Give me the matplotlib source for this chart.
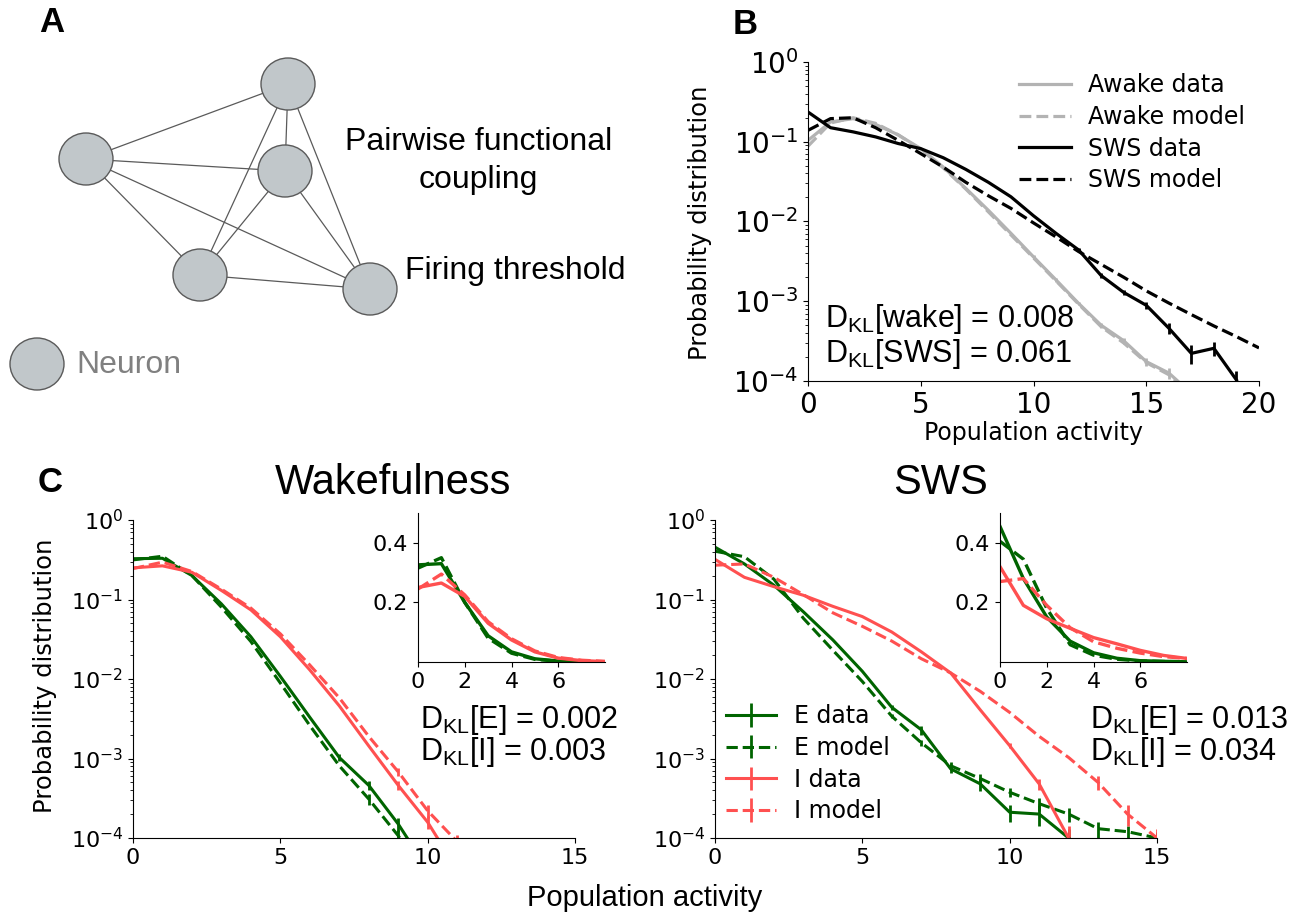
import matplotlib.pyplot as plt
import numpy as np
from matplotlib.patches import Ellipse

plt.rcParams['font.family'] = 'DejaVu Sans'
plt.rcParams['axes.spines.top'] = False
plt.rcParams['axes.spines.right'] = False

# ---- panel B: awake vs SWS, population activity distribution ----
awake_data = [0.104, 0.177, 0.195, 0.165, 0.122, 0.082, 0.048, 0.026, 0.0138, 0.0071,
              0.0036, 0.00185, 0.00094, 0.0005, 0.00032, 0.000175, 0.000126, 0.00007]
awake_data_err = [0, 0, 0, 0, 0, 0, 0, 0, 0, 0,
                  0.0002, 0.0001, 0.00005, 0.00004, 0.00003, 0.00002, 0.00002, 0.00001]
awake_model = [0.088, 0.172, 0.2, 0.17, 0.122, 0.08, 0.047, 0.0255, 0.0132, 0.0068,
               0.0035, 0.0018, 0.00092, 0.00048, 0.0003, 0.00017, 0.00012, 0.00007]
sws_data = [0.236, 0.15, 0.133, 0.115, 0.095, 0.082, 0.063, 0.045, 0.031, 0.0204,
            0.0118, 0.0071, 0.0044, 0.0021, 0.00129, 0.00089, 0.00046, 0.000222, 0.000257, 0.000103]
sws_data_err = [0, 0, 0, 0, 0, 0, 0, 0, 0, 0,
                0, 0, 0.0003, 0.00015, 0.0001, 0.00008, 0.00007, 0.00006, 0.00005, 0.00003]
sws_model = [0.139, 0.195, 0.2, 0.15, 0.104, 0.071, 0.048, 0.031, 0.021, 0.0146,
             0.0096, 0.0064, 0.0042, 0.0029, 0.002, 0.00135, 0.00095, 0.00068, 0.00049, 0.00036, 0.00026]

# ---- panel C: E / I populations ----
wake_e_data = [0.326, 0.33, 0.2, 0.088, 0.034, 0.0108, 0.0033, 0.00103, 0.00046, 0.00015, 0.00004]
wake_e_data_err = [0, 0, 0, 0, 0, 0, 0, 0.0001, 0.00006, 0.00003, 0]
wake_e_model = [0.315, 0.35, 0.2, 0.08, 0.0296, 0.0089, 0.0026, 0.00081, 0.00031, 0.000107, 0.00003]
wake_e_model_err = [0, 0, 0, 0, 0, 0, 0, 0, 0.00005, 0.00002, 0]
wake_i_data = [0.25, 0.265, 0.22, 0.13, 0.074, 0.034, 0.013, 0.0046, 0.00144, 0.00046, 0.000158, 0.00004]
wake_i_data_err = [0, 0, 0, 0, 0, 0, 0, 0, 0, 0.00006, 0.00003, 0]
wake_i_model = [0.245, 0.295, 0.225, 0.135, 0.078, 0.037, 0.015, 0.0058, 0.0019, 0.00068, 0.00022, 0.00009]
wake_i_model_err = [0, 0, 0, 0, 0, 0, 0, 0, 0, 0.00008, 0.00004, 0.00002]

sws_e_data = [0.455, 0.28, 0.151, 0.07, 0.031, 0.0125, 0.0044, 0.0023, 0.00074, 0.00048,
              0.000211, 0.0002, 0.0001]
sws_e_data_err = [0, 0, 0, 0, 0, 0, 0.0003, 0.0003, 0.00009, 0.00009, 0.00005, 0.00006, 0.00003]
sws_e_model = [0.405, 0.345, 0.18, 0.058, 0.023, 0.0093, 0.0034, 0.00158, 0.00081, 0.00056,
               0.000376, 0.00027, 0.0002, 0.000131, 0.00012, 0.0001]
sws_e_model_err = [0, 0, 0, 0, 0, 0, 0.0002, 0.00015, 0.0001, 0.00008,
                   0.00005, 0.00005, 0.00004, 0.00003, 0.00002, 0.00002]
sws_i_data = [0.32, 0.19, 0.145, 0.113, 0.082, 0.061, 0.039, 0.022, 0.0119, 0.0041,
              0.00145, 0.00048, 0.0001]
sws_i_data_err = [0, 0, 0, 0, 0, 0, 0, 0, 0, 0, 0.0001, 0.00008, 0.00004]
sws_i_model = [0.27, 0.28, 0.19, 0.115, 0.068, 0.046, 0.03, 0.018, 0.0119, 0.007,
               0.0038, 0.0019, 0.00103, 0.0005, 0.0002, 0.0001]
sws_i_model_err = [0, 0, 0, 0, 0, 0, 0, 0, 0, 0, 0, 0, 0, 0.0001, 0.00006, 0.00003]

dkl_b = ['0.008', '0.061']
dkl_wake = ['0.002', '0.003']
dkl_sws = ['0.013', '0.034']

GRAY = '#b3b3b3'
GREEN = '#006400'
RED = '#ff5050'
ARIAL = 'Liberation Sans'

fig = plt.figure(figsize=(12.9, 9.13), dpi=100)

# overlay axes in pixel coordinates for diagram + free text
ov = fig.add_axes([0, 0, 1, 1])
ov.set_xlim(0, 1290)
ov.set_ylim(913, 0)
ov.axis('off')
ov.set_zorder(5)

# panel A: toy network
node_x = [288, 86, 285, 200, 370]
node_y = [84, 159, 171, 275, 289]
for i in range(5):
    for j in range(i + 1, 5):
        ov.plot([node_x[i], node_x[j]], [node_y[i], node_y[j]], color='#5a5a5a', lw=0.9, zorder=1)
for x, y in zip(node_x, node_y):
    ov.add_patch(Ellipse((x, y), 54, 52, fc='#c1c7ca', ec='#5a5a5a', lw=1, zorder=2))
ov.add_patch(Ellipse((37, 364), 54, 52, fc='#c1c7ca', ec='#5a5a5a', lw=1, zorder=2))
ov.text(479, 142, 'Pairwise functional', ha='center', va='center', fontsize=23, family=ARIAL)
ov.text(478, 180, 'coupling', ha='center', va='center', fontsize=23, family=ARIAL)
ov.text(515, 271, 'Firing threshold', ha='center', va='center', fontsize=23, family=ARIAL)
ov.text(76, 365, 'Neuron', ha='left', va='center', fontsize=23, family=ARIAL, color='#808080')

for lab, x, y in [('A', 52, 22), ('B', 745, 25), ('C', 50, 482)]:
    ov.text(x, y, lab, ha='center', va='center', fontsize=25, weight='bold', family=ARIAL)

# panel B
axB = fig.add_axes([808 / 1290, 1 - 381 / 913, 451 / 1290, 319 / 913])
axB.plot(range(len(awake_data)), awake_data, color=GRAY, lw=2.3, label='Awake data')
axB.errorbar(range(len(awake_data)), awake_data, yerr=awake_data_err, fmt='none', ecolor=GRAY, elinewidth=2)
axB.plot(range(len(awake_model)), awake_model, color=GRAY, lw=2.3, ls='--', label='Awake model')
axB.plot(range(len(sws_data)), sws_data, color='black', lw=2.3, label='SWS data')
axB.errorbar(range(len(sws_data)), sws_data, yerr=sws_data_err, fmt='none', ecolor='black', elinewidth=2)
axB.plot(range(len(sws_model)), sws_model, color='black', lw=2.3, ls='--', label='SWS model')
axB.set_yscale('log')
axB.set_ylim(1e-4, 1)
axB.set_xlim(0, 20)
axB.set_xticks([0, 5, 10, 15, 20])
axB.tick_params(labelsize=20)
axB.set_xlabel('Population activity', fontsize=17, labelpad=2)
axB.legend(loc='upper left', bbox_to_anchor=(0.448, 0.995), borderaxespad=0, frameon=False,
           fontsize=17, handlelength=2.2, handletextpad=0.7, labelspacing=0.33)
ov.text(700, 223, 'Probability distribution', rotation=90, ha='center', va='center', fontsize=17.5)
ov.text(825, 327, r'D$_{\mathdefault{KL}}$[wake] = ' + dkl_b[0], fontsize=22, family=ARIAL, va='baseline')
ov.text(825, 362, r'D$_{\mathdefault{KL}}$[SWS] = ' + dkl_b[1], fontsize=22, family=ARIAL, va='baseline')

# panel C
series = {
    'wake': [(wake_e_data, wake_e_data_err, GREEN, '-', 'E data'),
             (wake_e_model, wake_e_model_err, GREEN, '--', 'E model'),
             (wake_i_data, wake_i_data_err, RED, '-', 'I data'),
             (wake_i_model, wake_i_model_err, RED, '--', 'I model')],
    'sws': [(sws_e_data, sws_e_data_err, GREEN, '-', 'E data'),
            (sws_e_model, sws_e_model_err, GREEN, '--', 'E model'),
            (sws_i_data, sws_i_data_err, RED, '-', 'I data'),
            (sws_i_model, sws_i_model_err, RED, '--', 'I model')],
}
lefts = {'wake': 133, 'sws': 715}
for key in ['wake', 'sws']:
    ax = fig.add_axes([lefts[key] / 1290, 1 - 838 / 913, 442 / 1290, 318 / 913])
    ins = fig.add_axes([(lefts[key] + 285) / 1290, 1 - 662 / 913, 187 / 1290, 149 / 913])
    for vals, err, c, ls, lab in series[key]:
        x = np.arange(len(vals))
        ax.errorbar(x, vals, yerr=err, color=c, ls=ls, lw=2.2, elinewidth=2, label=lab)
        ins.plot(x, vals, color=c, ls=ls, lw=2.4)
    ax.set_yscale('log')
    ax.set_ylim(1e-4, 1)
    ax.set_xlim(0, 15)
    ax.set_xticks([0, 5, 10, 15])
    ax.tick_params(labelsize=16)
    ins.set_xlim(0, 8)
    ins.set_ylim(0, 0.5)
    ins.set_xticks([0, 2, 4, 6])
    ins.set_yticks([0.2, 0.4])
    ins.tick_params(labelsize=16)
    if key == 'sws':
        ax.legend(loc='lower left', bbox_to_anchor=(0.004, 0.016), borderaxespad=0, frameon=False,
                  fontsize=17, handlelength=2.1, handletextpad=0.75, labelspacing=0.33)

ov.text(393, 483, 'Wakefulness', ha='center', va='center', fontsize=30, family=ARIAL)
ov.text(940, 483, 'SWS', ha='center', va='center', fontsize=30, family=ARIAL)
ov.text(420, 728, r'D$_{\mathdefault{KL}}$[E] = ' + dkl_wake[0], fontsize=22, family=ARIAL, va='baseline')
ov.text(420, 760, r'D$_{\mathdefault{KL}}$[I] = ' + dkl_wake[1], fontsize=22, family=ARIAL, va='baseline')
ov.text(1090, 728, r'D$_{\mathdefault{KL}}$[E] = ' + dkl_sws[0], fontsize=22, family=ARIAL, va='baseline')
ov.text(1090, 760, r'D$_{\mathdefault{KL}}$[I] = ' + dkl_sws[1], fontsize=22, family=ARIAL, va='baseline')
ov.text(45, 676, 'Probability distribution', rotation=90, ha='center', va='center', fontsize=17.5)
ov.text(645, 906, 'Population activity', ha='center', va='baseline', fontsize=21, family=ARIAL)

fig.savefig('out.png', dpi=100)
